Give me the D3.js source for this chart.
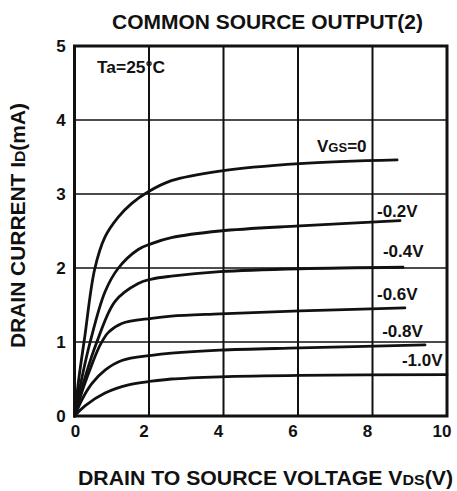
<!DOCTYPE html>
<html>
<head>
<meta charset="utf-8">
<script src="https://cdn.jsdelivr.net/npm/d3@7"></script>
<style>
html,body{margin:0;padding:0;background:#fff;}
svg{display:block;}
text{font-family:"Liberation Sans",Arial,Helvetica,sans-serif;font-weight:bold;fill:#111;}
</style>
</head>
<body>
<svg id="chart" width="457" height="491"></svg>
<script>
// ---- data ----
const xTicks = [0, 2, 4, 6, 8, 10];
const yTicks = [0, 1, 2, 3, 4, 5];

const vds0  = [0, 0.12, 0.27, 0.54, 0.82, 1.18, 1.53, 1.98, 2.6, 3.9, 6.05, 8.66];
const id0   = [0, 0.52, 1.05, 1.98, 2.42, 2.69, 2.87, 3.03, 3.18, 3.31, 3.41, 3.46];

const vds02 = [0, 0.2, 0.42, 0.82, 1.18, 1.71, 2.07, 2.6, 3.9, 6.05, 8.74];
const id02  = [0, 0.52, 1.0, 1.68, 2.0, 2.25, 2.33, 2.41, 2.50, 2.57, 2.64];

const vds04 = [0, 0.3, 0.6, 1.09, 1.71, 2.07, 2.6, 3.9, 6.05, 8.82];
const id04  = [0, 0.55, 1.0, 1.55, 1.79, 1.85, 1.89, 1.95, 1.99, 2.01];

const vds06 = [0, 0.25, 0.47, 0.69, 0.91, 1.27, 2.07, 2.6, 3.9, 6.05, 8.87];
const id06  = [0, 0.40, 0.70, 0.96, 1.13, 1.25, 1.32, 1.35, 1.38, 1.42, 1.46];

const vds08 = [0, 0.22, 0.47, 0.82, 1.27, 2.07, 2.6, 3.9, 6.05, 9.41];
const id08  = [0, 0.24, 0.44, 0.62, 0.75, 0.82, 0.85, 0.89, 0.92, 0.96];

const vds10 = [0, 0.29, 0.82, 1.45, 2.07, 2.6, 3.9, 6.05, 10];
const id10  = [0, 0.14, 0.31, 0.42, 0.47, 0.50, 0.53, 0.55, 0.56];

const curveLabels = ["VGS=0", "-0.2V", "-0.4V", "-0.6V", "-0.8V", "-1.0V"];
const labelVds    = [6.51, 8.12, 8.28, 8.12, 8.26, 8.79];
const labelId     = [3.57, 2.69, 2.15, 1.57, 1.07, 0.67];

const titleText = "COMMON SOURCE OUTPUT(2)";
const tempText = "Ta=25°C";

// ---- drawing ----
const svg = d3.select("#chart");
const x = d3.scaleLinear().domain([0, 10]).range([74.5, 447]);
const y = d3.scaleLinear().domain([0, 5]).range([416, 46]);

svg.append("rect").attr("width", 457).attr("height", 491).attr("fill", "#fff");

// grid
svg.append("g").selectAll("line").data(xTicks.slice(1, -1)).join("line")
  .attr("x1", d => x(d)).attr("x2", d => x(d))
  .attr("y1", y(5)).attr("y2", y(0))
  .attr("stroke", "#111").attr("stroke-width", 2);
svg.append("g").selectAll("line").data(yTicks.slice(1, -1)).join("line")
  .attr("y1", d => y(d)).attr("y2", d => y(d))
  .attr("x1", x(0)).attr("x2", x(10))
  .attr("stroke", "#111").attr("stroke-width", 1.6);

// frame
svg.append("rect")
  .attr("x", x(0)).attr("y", y(5))
  .attr("width", x(10) - x(0)).attr("height", y(0) - y(5))
  .attr("fill", "none").attr("stroke", "#111").attr("stroke-width", 3);

// curves
const series = [[vds0, id0], [vds02, id02], [vds04, id04], [vds06, id06], [vds08, id08], [vds10, id10]];
const line = d3.line().x(d => x(d[0])).y(d => y(d[1])).curve(d3.curveCatmullRom.alpha(0.5));
svg.append("g").selectAll("path").data(series).join("path")
  .attr("d", s => line(s[0].map((v, i) => [v, s[1][i]])))
  .attr("fill", "none").attr("stroke", "#111").attr("stroke-width", 2.8)
  .attr("stroke-linecap", "round").attr("stroke-linejoin", "round");

// tick labels
svg.append("g").selectAll("text").data(xTicks).join("text")
  .attr("x", (d, i) => x(d) + (i === 0 ? 1 : -5))
  .attr("y", 437)
  .attr("text-anchor", "middle").attr("font-size", 17)
  .text(d => d);
svg.append("g").selectAll("text").data(yTicks).join("text")
  .attr("x", 61)
  .attr("y", d => y(d)).attr("dy", "0.36em")
  .attr("text-anchor", "middle").attr("font-size", 17)
  .text(d => d);

// curve labels
const lab = svg.append("g").selectAll("text").data(curveLabels).join("text")
  .attr("x", (d, i) => x(labelVds[i]))
  .attr("y", (d, i) => y(labelId[i]))
  .attr("font-size", 17);
lab.each(function(d) {
  const t = d3.select(this);
  if (d.startsWith("VGS")) {
    t.append("tspan").text("V");
    t.append("tspan").attr("font-size", 13).text("GS");
    t.append("tspan").text(d.slice(3));
  } else {
    t.text(d);
  }
});

// title
svg.append("text").attr("x", 267.5).attr("y", 29)
  .attr("text-anchor", "middle").attr("font-size", 20)
  .attr("textLength", 311).attr("lengthAdjust", "spacingAndGlyphs")
  .text(titleText);

// Ta label
svg.append("text").attr("x", 97).attr("y", 73)
  .attr("font-size", 16).attr("textLength", 68).attr("lengthAdjust", "spacingAndGlyphs")
  .text(tempText);

// x axis title
const xt = svg.append("text").attr("x", 265.5).attr("y", 485)
  .attr("text-anchor", "middle").attr("font-size", 20)
  .attr("textLength", 375).attr("lengthAdjust", "spacingAndGlyphs");
xt.append("tspan").text("DRAIN TO SOURCE VOLTAGE  V");
xt.append("tspan").attr("font-size", 15).text("DS");
xt.append("tspan").text("(V)");

// y axis title
const yt = svg.append("text")
  .attr("transform", "translate(25,225.5) rotate(-90)")
  .attr("text-anchor", "middle").attr("font-size", 20)
  .attr("textLength", 245).attr("lengthAdjust", "spacingAndGlyphs");
yt.append("tspan").text("DRAIN CURRENT  I");
yt.append("tspan").attr("font-size", 15).text("D");
yt.append("tspan").text("(mA)");
</script>
</body>
</html>
